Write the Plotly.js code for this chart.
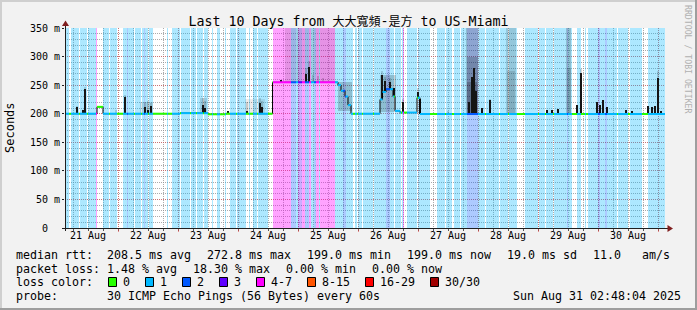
<!DOCTYPE html>
<html><head><meta charset="utf-8">
<script src="https://cdn.plot.ly/plotly-3.0.1.min.js"></script>
<style>html,body{margin:0;padding:0;background:#f2f2f2;}#chart{width:697px;height:310px;}</style>
</head><body><div id="chart"></div>
<script>
// ---------------- data ----------------
const titleText = 'Last 10 Days from <span style="font-size:12px">大大寬頻</span>-<span style="font-size:12px">是方</span> to US-Miami';
const startUTC = [2025, 7, 21, 2, 48, 4];          // Aug 21 02:48:04 (10 days before end)
const spanHours = 240;
const dayLabels = ['21 Aug','22 Aug','23 Aug','24 Aug','25 Aug','26 Aug','27 Aug','28 Aug','29 Aug','30 Aug'];
const yTickVals = [0, 50, 100, 150, 200, 250, 300, 350];
const yTickText = ['0  ', '50 m', '100 m', '150 m', '200 m', '250 m', '300 m', '350 m'];
const lossLabels = ['0','1','2','3','4-7','8-15','16-29','30/30'];
const lossColors = ['#26ff00','#00b8ff','#0059ff','#5e00ff','#ff00ff','#ff5500','#ff0000','#a10000'];

// loss runs: [start hour, end hour, loss class] (class 0 elsewhere)
const lossRuns = [
 [0.4,1.6,1],[2.4,5.6,1],[6.0,8.8,1],[9.2,12.4,1],[12.4,12.8,4],[15.2,17.6,1],[18.0,20.8,1],
 [23.2,24.8,1],[24.8,25.2,2],[25.2,27.6,1],[28.0,30.4,1],[30.8,31.6,1],[31.6,32.0,2],[32.0,33.2,1],
 [33.6,35.2,1],[40.8,41.2,1],[42.8,46.0,1],[46.4,50.0,1],[50.4,52.4,1],[52.8,55.2,1],[55.6,57.2,1],
 [58.8,59.2,1],[60.8,62.0,1],[64.0,64.4,1],[66.0,68.4,1],[68.8,72.4,1],[73.6,74.0,1],[75.2,76.8,1],
 [77.2,81.2,1],[83.2,90.4,4],[90.4,92.4,2],[92.4,93.2,1],[93.2,94.8,3],[94.8,96.0,4],[96.0,97.6,2],
 [97.6,98.4,4],[98.4,99.6,1],[99.6,100.4,2],[100.4,101.6,4],[101.6,102.0,1],[102.0,108.0,4],
 [108.0,111.2,1],[111.2,112.4,2],[112.4,115.2,1],[116.0,116.8,1],[117.2,118.8,1],[119.2,123.2,1],
 [123.6,128.4,1],[128.4,130.0,2],[130.0,131.6,1],[132.0,134.4,1],[134.8,135.2,1],[135.2,135.6,4],
 [136.8,140.8,1],[141.2,146.0,1],[148.8,152.0,1],[152.4,154.8,1],[155.6,158.0,1],[158.4,160.8,1],
 [160.8,165.2,2],[165.2,168.0,1],[168.4,171.2,1],[171.2,173.6,1],[174.0,177.2,1],[177.6,180.8,1],
 [184.0,189.2,1],[189.6,192.0,1],[192.4,195.2,1],[195.6,200.8,1],[200.8,201.2,2],[201.2,202.8,1],
 [204.8,206.4,1],[208.0,208.4,1],[209.2,213.2,1],[213.2,214.0,2],[214.0,216.0,1],[216.0,216.8,2],
 [216.8,220.8,1],[221.2,225.2,1],[226.0,230.8,1],[233.2,240.0,1]
];

// median rtt (ms): [start hour, end hour, value]
const medianRuns = [
 [0,12.8,200],[12.8,15.2,212],[15.2,46,200],[46,57.2,201],[57.2,64.4,199],[64.4,83.0,200],
 [83.0,109.2,255],[109.2,110.4,250],[110.4,112,240],[112,113.2,230],[113.2,114.4,215],
 [114.4,126,200],[126,127,225],[127,128.4,238],[128.4,131.2,243],[131.2,132,230],[132,134,205],
 [134,140.8,202],[140.8,142,228],[142,240,199.5]
];

// single-step ping spread (ms)
const spikeHour  = [4.8,7.2,8.0,20.4,24.0,32.0,33.2,34.4,55.2,56.0,65.2,72.8,78.0,78.8,86.4,96.4,97.6,99.2,101.2,103.2,
                    126.8,128.0,130.0,131.6,135.2,141.2,142.0,153.2,161.6,162.8,163.6,164.4,166.8,170.0,192.8,194.8,197.2,
                    204.8,206.4,212.8,214.0,215.2,216.8,224.4,226.8,233.2,234.8,236.0,237.2,238.4];
const spikeCore  = [212,207,243,0,230,212,207,213,215,210,204,205,218,212,259,270,282,0,0,0,
                    268,258,255,245,221,238,225,0,220,265,280,240,210,224,207,207,208,
                    215,271,220,215,224,212,206,204,213,211,213,262,205];
const spikeSmoke = [214,0,246,207,232,220,222,218,227,222,0,220,227,222,0,280,292,268,266,262,
                    275,265,262,0,225,245,0,205,0,0,0,0,0,226,0,0,0,
                    0,278,0,0,0,0,0,0,0,0,0,275,0];
const spikeWidth = 0.5;

// wider smoke areas: start hour, end hour, low ms, high ms, shade
const smokeStart = [88, 109.2, 126, 160.4, 160.6, 160.8, 176.4, 176.8, 200.4, 200.6, 30, 54, 72];
const smokeEnd   = [108, 114.8, 132.4, 165.2, 165.0, 164.8, 180.4, 180.0, 202.4, 202.2, 35.2, 56.8, 80];
const smokeLow   = [256, 205, 203, 201, 201, 201, 201, 201, 201, 201, 201, 202, 201];
const smokeHigh  = [350, 255, 268, 350, 300, 255, 350, 275, 350, 280, 220, 227, 225];
const smokeShade = [0.1, 0.18, 0.18, 0.18, 0.18, 0.2, 0.14, 0.12, 0.18, 0.14, 0.1, 0.12, 0.08];

const statLine1 = ['median rtt:  208.5 ms avg', '272.8 ms max', '199.0 ms min', '199.0 ms now', '19.0 ms sd', '11.0   am/s'];
const statLine2 = ['packet loss: 1.48 % avg', '18.30 % max', '0.00 % min', '0.00 % now'];
const probeText = ['probe:', '30 ICMP Echo Pings (56 Bytes) every 60s'];
const stampText = 'Sun Aug 31 02:48:04 2025';

// ---------------- helpers ----------------
const HR = 3600000;
const T0 = Date.UTC(...startUTC);
const tt = h => T0 + h * HR;
const W = 697, HGT = 310, ML = 65, MT = 28, PW = 600, PH = 200;
const px2x = X => (X - ML) / PW;
const px2y = Y => (MT + PH - Y) / PH;
const MONO = 'DejaVu Sans Mono, monospace';
const nb = s => s.replace(/ /g, '\u00a0');
const GRID = 'rgba(143,143,143,0.75)';
const MGRID = 'rgba(222,79,79,0.6)';
const bgAlpha = [0, 0.32, 0.32, 0.32, 0.36, 0.32, 0.32, 0.32];
function hexA(hex, a){const n=parseInt(hex.slice(1),16);return `rgba(${n>>16},${(n>>8)&255},${n&255},${a})`;}
function lossAt(h){for(const r of lossRuns){if(h>=r[0]&&h<r[1])return r[2];}return 0;}
function medAt(h){for(const r of medianRuns){if(h>=r[0]&&h<r[1])return r[2];}return medianRuns[medianRuns.length-1][2];}
const yTop = yTickVals[yTickVals.length-1];

const traces = [];
// loss background
traces.push({type:'bar', x: lossRuns.map(r=>tt((r[0]+r[1])/2)), y: lossRuns.map(()=>yTop), base:0,
  width: lossRuns.map(r=>(r[1]-r[0])*HR), marker:{color: lossRuns.map(r=>hexA(lossColors[r[2]], bgAlpha[r[2]])), line:{width:0}},
  hoverinfo:'skip'});
// smoke areas
traces.push({type:'bar', x: smokeStart.map((s,i)=>tt((s+smokeEnd[i])/2)), y: smokeHigh.map((v,i)=>v-smokeLow[i]), base: smokeLow,
  width: smokeStart.map((s,i)=>(smokeEnd[i]-s)*HR), marker:{color: smokeShade.map(a=>`rgba(0,0,0,${a})`), line:{width:0}}, hoverinfo:'skip'});
// spike halos
const sIdx = spikeHour.map((h,i)=>i).filter(i=>spikeSmoke[i]>0);
traces.push({type:'bar', x: sIdx.map(i=>tt(spikeHour[i])), base: sIdx.map(i=>medAt(spikeHour[i])),
  y: sIdx.map(i=>spikeSmoke[i]-medAt(spikeHour[i])), width: sIdx.map(()=>spikeWidth*1.2*HR),
  marker:{color:'rgba(0,0,0,0.14)', line:{width:0}}, hoverinfo:'skip'});
// spike cores
const cIdx = spikeHour.map((h,i)=>i).filter(i=>spikeCore[i]>0);
traces.push({type:'bar', x: cIdx.map(i=>tt(spikeHour[i])), base: cIdx.map(i=>medAt(spikeHour[i])),
  y: cIdx.map(i=>spikeCore[i]-medAt(spikeHour[i])), width: cIdx.map(()=>spikeWidth*HR),
  marker:{color:'#151515', line:{width:0}}, hoverinfo:'skip'});
// median connector (black)
traces.push({type:'scatter', mode:'lines', xaxis:'x2', x: medianRuns.map(r=>tt(r[0])).concat([tt(medianRuns[medianRuns.length-1][1])]),
  y: medianRuns.map(r=>r[2]).concat([medianRuns[medianRuns.length-1][2]]), line:{shape:'hv', color:'#000', width:1}, hoverinfo:'skip'});
// coloured median segments
const segX = {}, segY = {};
for (const m of medianRuns){
  const cuts=[m[0],m[1]];
  for(const r of lossRuns){ if(r[0]>m[0]&&r[0]<m[1])cuts.push(r[0]); if(r[1]>m[0]&&r[1]<m[1])cuts.push(r[1]); }
  cuts.sort((a,b)=>a-b);
  for(let i=0;i<cuts.length-1;i++){
    const a=cuts[i], b=cuts[i+1]; if(b-a<1e-9)continue;
    const c=lossAt((a+b)/2);
    (segX[c]=segX[c]||[]).push(tt(a),tt(b),null);
    (segY[c]=segY[c]||[]).push(m[2],m[2],null);
  }
}
Object.keys(segX).forEach(c=>{
  traces.push({type:'scatter', mode:'lines', xaxis:'x2', x:segX[c], y:segY[c], line:{color:lossColors[c], width:2}, hoverinfo:'skip'});
});

const midnights = [], noons = [];
for(let d=0; d<=10; d++){ const m=Date.UTC(2025,7,21+d); if(m>=T0 && m<=tt(spanHours)) midnights.push(m); }
dayLabels.forEach((l,i)=>noons.push(Date.UTC(2025,7,21+i,12)));

const shapes = [
  // borders
  {type:'rect',xref:'paper',yref:'paper',x0:px2x(0),x1:px2x(W),y0:px2y(0),y1:px2y(2),fillcolor:'#cfcfcf',line:{width:0}},
  {type:'rect',xref:'paper',yref:'paper',x0:px2x(0),x1:px2x(2),y0:px2y(0),y1:px2y(HGT),fillcolor:'#cfcfcf',line:{width:0}},
  {type:'rect',xref:'paper',yref:'paper',x0:px2x(0),x1:px2x(W),y0:px2y(HGT-2),y1:px2y(HGT),fillcolor:'#9e9e9e',line:{width:0}},
  {type:'rect',xref:'paper',yref:'paper',x0:px2x(W-2),x1:px2x(W),y0:px2y(0),y1:px2y(HGT),fillcolor:'#9e9e9e',line:{width:0}},
  // axes
  {type:'line',xref:'paper',yref:'paper',x0:px2x(64),x1:px2x(669),y0:px2y(228.5),y1:px2y(228.5),line:{color:'#1f1f1f',width:1}},
  {type:'line',xref:'paper',yref:'paper',x0:px2x(65.5),x1:px2x(65.5),y0:px2y(231),y1:px2y(25),line:{color:'#1f1f1f',width:1}},
  {type:'path',xref:'paper',yref:'paper',path:`M ${px2x(673)} ${px2y(228.5)} L ${px2x(667.5)} ${px2y(225)} L ${px2x(667.5)} ${px2y(232)} Z`,fillcolor:'#801f1f',line:{width:0}},
  {type:'path',xref:'paper',yref:'paper',path:`M ${px2x(65.5)} ${px2y(20.5)} L ${px2x(62)} ${px2y(26)} L ${px2x(69)} ${px2y(26)} Z`,fillcolor:'#801f1f',line:{width:0}}
];

const annotations = [];
function txt(s,X,Y,o){return Object.assign({xref:'paper',yref:'paper',x:px2x(X),y:px2y(Y),xanchor:'left',yanchor:'middle',
  text:nb(s),showarrow:false,borderpad:0,borderwidth:0,font:{family:MONO,size:11.63,color:'#000'}},o||{});}
const CH = 7, GAP = 16;
let X = 16;
statLine1.forEach(s=>{annotations.push(txt(s,X,254.5)); X += s.length*CH + GAP;});
X = 16;
statLine2.forEach(s=>{annotations.push(txt(s,X,268.5)); X += s.length*CH + GAP;});
annotations.push(txt('loss color:',16,282.3));
X = 16 + 11*CH + GAP;
lossLabels.forEach((l,i)=>{
  shapes.push({type:'rect',xref:'paper',yref:'paper',x0:px2x(X-0.5),x1:px2x(X+7.5),y0:px2y(277.5),y1:px2y(286.5),
    fillcolor:lossColors[i],line:{color:'#000',width:1}});
  annotations.push(txt(l,X+14,282.3));
  X += 14 + l.length*CH + GAP;
});
annotations.push(txt(probeText[0],16,296));
annotations.push(txt(probeText[1],16+13*CH,296));
annotations.push(txt(stampText,681,296,{xanchor:'right'}));
annotations.push(txt('Seconds',10,128,{xanchor:'center',textangle:-90,font:{family:MONO,size:12,color:'#000'}}));
annotations.push(txt('RRDTOOL / TOBI OETIKER',688,59,{xanchor:'center',textangle:90,font:{family:MONO,size:8.2,color:'#b0b0b0'}}));

const layout = {
  width:W, height:HGT, margin:{l:ML, r:W-ML-PW, t:MT, b:HGT-MT-PH, pad:0},
  paper_bgcolor:'#f2f2f2', plot_bgcolor:'#ffffff', showlegend:false, hovermode:false,
  barmode:'overlay', bargap:0,
  font:{family:MONO, size:10, color:'#000'},
  title:{text:titleText, x:0.5, xref:'container', xanchor:'center', y:1-21/HGT, yref:'container', yanchor:'middle',
    font:{family:'DejaVu Sans Mono, Noto Sans CJK TC', size:13.3, color:'#000'}},
  xaxis:{type:'date', range:[T0, tt(spanHours)], tickmode:'array', tickvals:midnights, showticklabels:false,
    ticks:'outside', ticklen:3, tickcolor:MGRID, showgrid:true, gridcolor:MGRID, griddash:'1px,1px', gridwidth:1,
    zeroline:false, showline:false, fixedrange:true,
    minor:{tickmode:'linear', tick0:'2025-08-21', dtick:6*HR, showgrid:true, gridcolor:GRID, griddash:'1px,1px', gridwidth:1,
      ticks:'outside', ticklen:2, tickcolor:'#555'}},
  xaxis2:{type:'date', overlaying:'x', anchor:'y', side:'bottom', range:[T0, tt(spanHours)], tickmode:'array',
    tickvals:noons, ticktext:dayLabels, showgrid:false, ticks:'', zeroline:false, showline:false, fixedrange:true,
    tickfont:{family:MONO, size:10, color:'#000'}},
  yaxis:{range:[0, yTop], tickmode:'array', tickvals:yTickVals, ticktext:yTickText.map(nb), ticks:'outside', ticklen:2,
    tickcolor:'#1f1f1f', showgrid:true, gridcolor:MGRID, griddash:'1px,1px', gridwidth:1, zeroline:false, showline:false,
    fixedrange:true, tickfont:{family:MONO, size:10, color:'#000'},
    minor:{tickmode:'linear', tick0:0, dtick:10, showgrid:true, gridcolor:GRID, griddash:'1px,1px', gridwidth:1}},
  shapes:shapes, annotations:annotations
};
Plotly.newPlot('chart', traces, layout, {displayModeBar:false, responsive:false});
</script></body></html>
